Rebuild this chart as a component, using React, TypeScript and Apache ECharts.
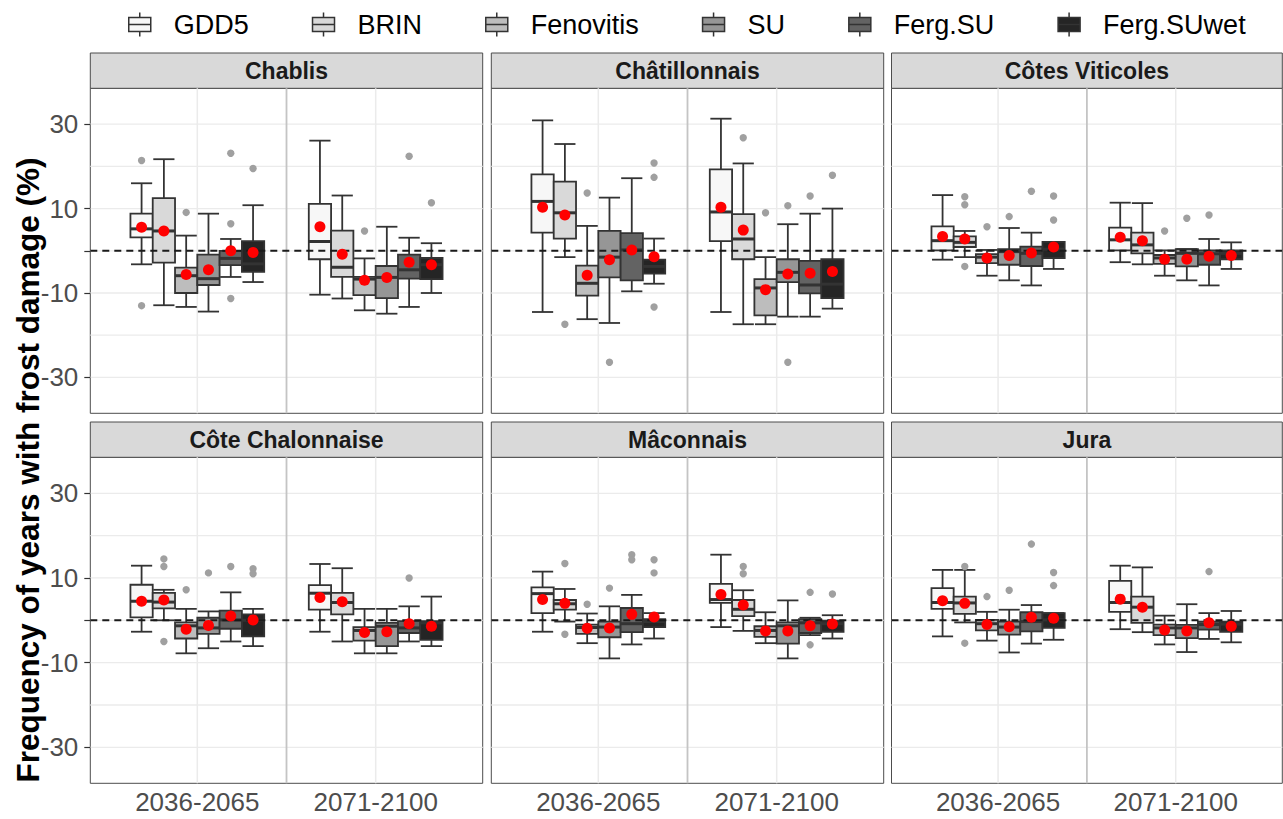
import React, { useEffect, useRef } from 'react';
import * as echarts from 'echarts';

const GROUPS = ['GDD5', 'BRIN', 'Fenovitis', 'SU', 'Ferg.SU', 'Ferg.SUwet'];
const FILLS = ['#F7F7F7', '#D9D9D9', '#BDBDBD', '#969696', '#636363', '#252525'];
const PERIODS = ['2036-2065', '2071-2100'];
const REGIONS = ['Chablis', 'Châtillonnais', 'Côtes Viticoles', 'Côte Chalonnaise', 'Mâconnais', 'Jura'];
const Y_LABELS = [-30, -10, 10, 30];
const Y_TICKS = [-30, -10, 0, 10, 30];
const Y_GRID = [-30, -20, -10, 0, 10, 20, 30];
const X_TICKS = [1, 2];
const X_SEP = [1.5];
const ZERO_LINE = [0];

// rows: [low whisker, Q1, median, Q3, high whisker, mean]
// rows 0-5: 2036-2065 (GDD5..Ferg.SUwet), rows 6-11: 2071-2100
const CHABLIS_BOX = [
  [-3.2, 3.2, 5.2, 8.8, 16.0, 5.6],
  [-12.9, -2.8, 4.7, 12.5, 21.7, 4.7],
  [-13.3, -10.0, -5.9, -4.0, 3.6, -5.6],
  [-14.4, -8.1, -6.6, -0.9, 8.8, -4.5],
  [-6.2, -3.4, -1.8, 0.0, 2.8, 0.0],
  [-7.4, -5.0, -3.1, 2.3, 10.8, -0.4],
  [-10.4, -2.0, 2.2, 11.1, 26.1, 5.7],
  [-11.3, -6.2, -3.9, 4.8, 13.1, -0.8],
  [-14.1, -10.5, -6.7, -6.2, -1.8, -7.0],
  [-14.9, -11.2, -6.3, -3.6, 5.7, -6.3],
  [-13.3, -6.6, -4.5, -0.9, 3.1, -2.7],
  [-10.0, -6.7, -3.3, -1.7, 1.8, -3.3],
];
// [period index, group index, value]
const CHABLIS_OUT = [
  [0, 0, 21.4], [0, 0, -13.0], [0, 2, 9.1], [0, 4, 23.1], [0, 4, 6.4], [0, 4, -11.3], [0, 5, 19.5],
  [1, 2, 4.7], [1, 4, 22.4], [1, 5, 11.4],
];

const CHATILLON_BOX = [
  [-14.5, 4.3, 11.7, 18.1, 30.9, 10.3],
  [-1.5, 2.9, 9.0, 16.4, 25.3, 8.5],
  [-16.2, -10.6, -7.7, -3.5, 5.9, -5.8],
  [-17.1, -6.3, -1.5, 4.7, 12.6, -2.1],
  [-9.6, -7.0, 0.2, 4.2, 17.2, 0.2],
  [-7.8, -5.4, -3.7, -2.1, 2.9, -1.4],
  [-14.5, 2.3, 9.2, 19.3, 31.3, 10.3],
  [-17.4, -2.0, 2.8, 8.7, 20.7, 4.9],
  [-17.4, -15.3, -8.8, -6.7, -1.5, -9.2],
  [-15.6, -7.4, -5.1, -2.0, 6.3, -5.5],
  [-15.6, -10.1, -8.1, -2.4, 8.8, -5.3],
  [-13.7, -11.2, -7.9, -2.0, 10.0, -4.9],
];
const CHATILLON_OUT = [
  [0, 1, -17.4], [0, 2, 13.7], [0, 3, -26.4], [0, 5, 20.8], [0, 5, 17.4], [0, 5, -13.3],
  [1, 1, 26.8], [1, 2, 9.0], [1, 3, 10.7], [1, 3, -26.4], [1, 4, 13.0], [1, 5, 17.9],
];

const COTES_BOX = [
  [-2.1, 0.1, 2.4, 5.8, 13.2, 3.4],
  [-1.5, 0.9, 2.0, 3.4, 4.7, 2.8],
  [-5.9, -2.9, -1.5, -0.8, 0.2, -1.7],
  [-7.0, -3.3, -0.2, 0.4, 5.4, -1.1],
  [-8.2, -3.6, -0.6, 1.0, 4.3, -0.5],
  [-4.3, -1.7, 0.4, 2.1, 2.1, 0.9],
  [-2.7, 0.1, 2.6, 5.5, 11.4, 3.2],
  [-3.2, -0.6, 1.4, 4.3, 11.3, 2.4],
  [-5.9, -3.1, -1.7, -1.0, 0.1, -2.0],
  [-7.0, -3.7, -0.6, 0.4, 0.4, -2.0],
  [-8.2, -3.3, -0.7, 0.1, 2.8, -1.3],
  [-4.3, -2.0, -0.6, 0.1, 2.0, -1.1],
];
const COTES_OUT = [
  [0, 1, 12.8], [0, 1, 10.9], [0, 1, -3.7], [0, 2, 5.7], [0, 3, 8.1], [0, 4, 14.1], [0, 5, 13.0], [0, 5, 7.3],
  [1, 2, 4.7], [1, 3, 7.7], [1, 4, 8.5],
];

const CHALON_BOX = [
  [-2.7, 0.7, 4.5, 8.4, 12.9, 4.5],
  [0.0, 2.8, 4.3, 6.5, 7.2, 4.8],
  [-7.8, -4.3, -1.3, -0.5, 2.7, -2.1],
  [-6.6, -3.2, -1.8, 0.6, 2.1, -1.2],
  [-5.0, -2.0, 0.1, 2.3, 6.6, 1.0],
  [-6.1, -3.8, 0.0, 1.4, 2.7, 0.1],
  [-2.7, 2.5, 6.4, 8.3, 13.3, 5.4],
  [-5.0, 1.4, 4.2, 6.5, 12.3, 4.4],
  [-7.8, -4.8, -2.4, -1.6, 2.7, -2.9],
  [-7.8, -6.1, -1.4, -0.6, 2.7, -2.7],
  [-5.0, -3.0, -1.8, -0.2, 3.3, -0.8],
  [-6.1, -4.6, -0.6, -0.2, 5.6, -1.4],
];
const CHALON_OUT = [
  [0, 1, 14.5], [0, 1, 12.7], [0, 1, -5.0], [0, 2, 7.2], [0, 3, 11.2], [0, 4, 12.7], [0, 5, 12.2], [0, 5, 11.0],
  [1, 4, 10.0],
];

const MACON_BOX = [
  [-2.7, 1.7, 6.3, 7.8, 11.5, 4.9],
  [-0.3, 2.5, 3.9, 4.8, 7.4, 4.0],
  [-5.4, -3.2, -1.7, -1.0, 1.6, -1.9],
  [-9.0, -4.0, -1.6, -0.3, 3.3, -1.8],
  [-5.7, -2.8, -0.8, 2.9, 6.0, 1.4],
  [-4.3, -1.6, -0.3, 0.3, 1.7, 0.8],
  [-1.6, 4.1, 4.9, 8.6, 15.5, 6.1],
  [-2.5, 1.0, 2.6, 4.8, 7.1, 3.6],
  [-5.4, -3.9, -2.4, -1.4, 1.9, -2.5],
  [-9.0, -5.5, -1.3, -0.5, 4.7, -2.5],
  [-3.5, -3.0, -0.6, 0.3, 0.6, -1.3],
  [-4.3, -2.7, -0.8, -0.1, 1.2, -0.9],
];
const MACON_OUT = [
  [0, 1, 13.4], [0, 1, -3.3], [0, 2, 3.8], [0, 3, 7.6], [0, 4, 15.5], [0, 4, 14.3], [0, 5, 14.3], [0, 5, 11.2],
  [1, 1, 12.7], [1, 1, 11.0], [1, 4, 6.6], [1, 4, -5.8], [1, 5, 6.2],
];

const JURA_BOX = [
  [-3.8, 2.7, 4.2, 7.6, 11.9, 4.6],
  [-0.5, 1.5, 4.1, 5.6, 11.9, 4.0],
  [-4.8, -2.4, -0.8, 0.1, 2.0, -1.0],
  [-7.6, -3.4, -1.6, -0.3, 2.5, -1.5],
  [-5.5, -2.6, -0.3, 1.9, 3.6, 0.7],
  [-4.6, -1.8, 0.1, 1.7, 1.7, 0.5],
  [-2.1, 2.0, 4.2, 9.3, 12.9, 5.0],
  [-2.8, -0.6, 3.1, 5.6, 12.5, 3.1],
  [-5.7, -3.5, -1.8, -1.0, 1.1, -2.3],
  [-7.5, -4.2, -1.8, -1.1, 3.8, -2.5],
  [-4.4, -2.2, -1.0, -0.3, 1.7, -0.6],
  [-5.2, -2.7, -0.9, -0.3, 2.2, -1.4],
];
const JURA_OUT = [
  [0, 1, 12.7], [0, 1, -5.4], [0, 2, 5.6], [0, 3, 7.1], [0, 4, 18.0], [0, 5, 11.3], [0, 5, 8.2],
  [1, 4, 11.5],
];

const BOX_DATA = [CHABLIS_BOX, CHATILLON_BOX, COTES_BOX, CHALON_BOX, MACON_BOX, JURA_BOX];
const OUT_DATA = [CHABLIS_OUT, CHATILLON_OUT, COTES_OUT, CHALON_OUT, MACON_OUT, JURA_OUT];

const FONT = '"Liberation Sans", Arial, Helvetica, sans-serif';
const DODGE = 0.125;
const GRID_LEFT = [90.3, 491.3, 891.5];
const GRID_WIDTH = [392.4, 392.4, 390.8];
const GRID_TOP = [88.3, 457.3];
const GRID_HEIGHT = [325, 326];
const STRIP_H = 35.3;
const LINE_COLOR = '#333333';
const LEGEND_ICON = 'path://M11 0 L11 5 M0 5 L22 5 L22 19 L0 19 Z M0 12 L22 12 M11 19 L11 24';

function renderGrid(params: any, api: any) {
  const cs = params.coordSys;
  const kind = api.value(2);
  if (kind === 0) {
    const y = api.coord([1, api.value(1)])[1];
    return { type: 'line', shape: { x1: cs.x, y1: y, x2: cs.x + cs.width, y2: y }, style: { stroke: '#EBEBEB', lineWidth: 1.3 } };
  }
  const x = api.coord([api.value(0), 0])[0];
  return {
    type: 'line',
    shape: { x1: x, y1: cs.y, x2: x, y2: cs.y + cs.height },
    style: { stroke: kind === 1 ? '#EBEBEB' : '#C4C4C4', lineWidth: kind === 1 ? 1.5 : 1.8 },
  };
}

function makeBoxRenderer(gi: number) {
  return (params: any, api: any) => {
    const x = api.value(0);
    const cx = api.coord([x + (gi - 2.5) * DODGE, 0])[0];
    const w = api.size([DODGE, 0])[0];
    const half = w / 2;
    const yLo = api.coord([x, api.value(1)])[1];
    const yQ1 = api.coord([x, api.value(2)])[1];
    const yMed = api.coord([x, api.value(3)])[1];
    const yQ3 = api.coord([x, api.value(4)])[1];
    const yHi = api.coord([x, api.value(5)])[1];
    const ls = { stroke: LINE_COLOR, lineWidth: 1.8 };
    const cap = half * 0.95;
    return {
      type: 'group',
      children: [
        { type: 'line', shape: { x1: cx, y1: yHi, x2: cx, y2: yQ3 }, style: ls },
        { type: 'line', shape: { x1: cx, y1: yQ1, x2: cx, y2: yLo }, style: ls },
        { type: 'line', shape: { x1: cx - cap, y1: yHi, x2: cx + cap, y2: yHi }, style: ls },
        { type: 'line', shape: { x1: cx - cap, y1: yLo, x2: cx + cap, y2: yLo }, style: ls },
        {
          type: 'rect',
          shape: { x: cx - half, y: yQ3, width: w, height: Math.max(yQ1 - yQ3, 0.5) },
          style: { fill: FILLS[gi], stroke: LINE_COLOR, lineWidth: 1.8 },
        },
        { type: 'line', shape: { x1: cx - half, y1: yMed, x2: cx + half, y2: yMed }, style: { stroke: LINE_COLOR, lineWidth: 3 } },
      ],
    };
  };
}

function renderOutlier(params: any, api: any) {
  const x = api.value(0);
  const gi = api.value(2);
  const p = api.coord([x + (gi - 2.5) * DODGE, api.value(1)]);
  return { type: 'circle', shape: { cx: p[0], cy: p[1], r: 3.7 }, style: { fill: '#A0A0A0' } };
}

function renderMean(params: any, api: any) {
  const x = api.value(0);
  const gi = api.value(2);
  const p = api.coord([x + (gi - 2.5) * DODGE, api.value(1)]);
  return { type: 'circle', shape: { cx: p[0], cy: p[1], r: 5.5 }, style: { fill: '#FF0000' } };
}

function renderZero(params: any, api: any) {
  const cs = params.coordSys;
  const y = api.coord([1, api.value(1)])[1];
  return {
    type: 'line',
    shape: { x1: cs.x, y1: y, x2: cs.x + cs.width, y2: y },
    style: { stroke: '#1A1A1A', lineWidth: 2, lineDash: [7, 5] },
  };
}

function buildOption() {
  const grids: any[] = [];
  const xAxes: any[] = [];
  const yAxes: any[] = [];
  const series: any[] = [];
  const graphics: any[] = [];

  REGIONS.forEach((region, p) => {
    const col = p % 3;
    const row = Math.floor(p / 3);
    const left = GRID_LEFT[col];
    const top = GRID_TOP[row];
    const width = GRID_WIDTH[col];
    const height = GRID_HEIGHT[row];
    grids.push({
      left, top, width, height, show: true, backgroundColor: '#FFFFFF',
      borderColor: '#4D4D4D', borderWidth: 1, containLabel: false, outerBoundsMode: 'none',
    });
    xAxes.push({
      type: 'value', gridIndex: p, min: 0.4, max: 2.6,
      axisLine: { show: false },
      splitLine: { show: false },
      axisTick: { show: row === 1, customValues: X_TICKS, length: 6, lineStyle: { color: LINE_COLOR, width: 1.2 } },
      axisLabel: {
        show: row === 1, customValues: X_TICKS, margin: 6, fontSize: 26, color: '#4D4D4D', fontFamily: FONT,
        formatter: (v: number) => PERIODS[Math.round(v) - 1] || '',
      },
    });
    yAxes.push({
      type: 'value', gridIndex: p, min: -38.5, max: 38.5,
      axisLine: { show: false },
      splitLine: { show: false },
      axisTick: { show: col === 0, customValues: Y_TICKS, length: 6, lineStyle: { color: LINE_COLOR, width: 1.2 } },
      axisLabel: {
        show: col === 0, customValues: Y_LABELS, margin: 12, fontSize: 26, color: '#4D4D4D', fontFamily: FONT,
      },
    });

    series.push({
      type: 'custom', name: 'grid-' + p, xAxisIndex: p, yAxisIndex: p, z: 0, silent: true,
      encode: { x: 0, y: 1 },
      data: [
        ...Y_GRID.map((v) => [1, v, 0]),
        ...X_TICKS.map((v) => [v, 0, 1]),
        ...X_SEP.map((v) => [v, 0, 2]),
      ],
      renderItem: renderGrid,
    });

    const box = BOX_DATA[p];
    GROUPS.forEach((g, gi) => {
      series.push({
        type: 'custom', name: g, xAxisIndex: p, yAxisIndex: p, z: 2, silent: true,
        itemStyle: { color: FILLS[gi], borderColor: LINE_COLOR },
        encode: { x: 0, y: [1, 2, 3, 4, 5] },
        data: PERIODS.map((_, t) => [t + 1, ...box[t * 6 + gi].slice(0, 5)]),
        renderItem: makeBoxRenderer(gi),
      });
    });

    series.push({
      type: 'custom', name: 'outliers-' + p, xAxisIndex: p, yAxisIndex: p, z: 2, silent: true,
      encode: { x: 0, y: 1 },
      data: OUT_DATA[p].map(([t, gi, v]) => [t + 1, v, gi]),
      renderItem: renderOutlier,
    });
    series.push({
      type: 'custom', name: 'zero-' + p, xAxisIndex: p, yAxisIndex: p, z: 3, silent: true,
      encode: { x: 0, y: 1 },
      data: ZERO_LINE.map((v) => [1, v]),
      renderItem: renderZero,
    });
    series.push({
      type: 'custom', name: 'mean-' + p, xAxisIndex: p, yAxisIndex: p, z: 4, silent: true,
      encode: { x: 0, y: 1 },
      data: box.map((r, i) => [Math.floor(i / 6) + 1, r[5], i % 6]),
      renderItem: renderMean,
    });

    graphics.push({
      type: 'rect',
      shape: { x: left, y: top - STRIP_H, width, height: STRIP_H },
      style: { fill: '#D9D9D9', stroke: '#4D4D4D', lineWidth: 1 },
    });
    graphics.push({
      type: 'text',
      x: left + width / 2,
      y: top - STRIP_H / 2,
      style: {
        text: region, font: `bold 23px ${FONT}`, fill: '#1A1A1A',
        align: 'center', verticalAlign: 'middle', textAlign: 'center', textVerticalAlign: 'middle',
      },
    });
  });

  graphics.push({
    type: 'text',
    x: 28,
    y: 470,
    rotation: Math.PI / 2,
    style: {
      text: 'Frequency of years with frost damage (%)', font: `bold 31.5px ${FONT}`, fill: '#000000',
      align: 'center', verticalAlign: 'middle', textAlign: 'center', textVerticalAlign: 'middle',
    },
  });

  return {
    animation: false,
    backgroundColor: '#FFFFFF',
    legend: {
      top: 11, left: 128, padding: 0, itemGap: 63, itemWidth: 22, itemHeight: 24, selectedMode: false,
      textStyle: { fontSize: 27, color: '#000000', fontFamily: FONT, padding: [0, 0, 0, 18] },
      data: GROUPS.map((n, i) => ({
        name: n, icon: LEGEND_ICON,
        itemStyle: { color: FILLS[i], borderColor: LINE_COLOR, borderWidth: 1.5 },
      })),
    },
    grid: grids,
    xAxis: xAxes,
    yAxis: yAxes,
    series,
    graphic: graphics,
  };
}

export default function App() {
  const ref = useRef<HTMLDivElement>(null);
  useEffect(() => {
    if (!ref.current) return;
    const chart = echarts.init(ref.current, undefined, { renderer: 'svg' });
    chart.setOption(buildOption() as any);
    return () => chart.dispose();
  }, []);
  return (
    <div
      ref={ref}
      style={{ position: 'absolute', left: 0, top: 0, width: 1283, height: 819, background: '#fff' }}
    />
  );
}
